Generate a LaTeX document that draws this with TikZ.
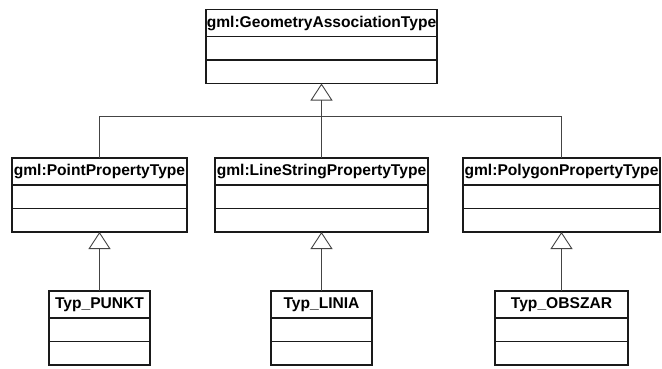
\documentclass[tikz,border=0pt]{standalone}
\usepackage{fontspec}
\setmainfont{Liberation Sans}
\usetikzlibrary{positioning, arrows.meta}
\definecolor{umlline}{HTML}{1A1A1A}
\definecolor{umlconn}{HTML}{444444}

\begin{document}
\begin{tikzpicture}[
    x=1pt, y=-1pt,
    umlhead/.style={rectangle, draw=umlline, line width=1.2pt, fill=white, outer sep=0pt, inner sep=0pt, minimum height=27pt, text height=11.5pt, text depth=3pt, font=\fontsize{15.6}{18}\selectfont\bfseries},
    umlcomp/.style={rectangle, draw=umlline, line width=1.2pt, fill=white, outer sep=0pt, inner sep=0pt, minimum height=23.5pt},
    gen/.style={-{Triangle[open, length=17pt, width=22pt]}, line width=0.9pt, color=umlconn},
    assoc/.style={line width=0.9pt, color=umlconn}
]
\useasboundingbox[fill=white] (0,0) rectangle (662,368);

% base class
\node[umlhead, minimum width=231pt] (geo) at (321.5,23) {gml:GeometryAssociationType};
\node[umlcomp, minimum width=231pt, below=0pt of geo] (geoattr) {};
\node[umlcomp, minimum width=231pt, below=0pt of geoattr] (geoop) {};

% property types
\node[umlhead, minimum width=175pt] (point) at (99.5,171.5) {gml:PointPropertyType};
\node[umlcomp, minimum width=175pt, below=0pt of point] (pointattr) {};
\node[umlcomp, minimum width=175pt, below=0pt of pointattr] (pointop) {};

\node[umlhead, minimum width=213pt] (line) at (321.5,171.5) {gml:LineStringPropertyType};
\node[umlcomp, minimum width=213pt, below=0pt of line] (lineattr) {};
\node[umlcomp, minimum width=213pt, below=0pt of lineattr] (lineop) {};

\node[umlhead, minimum width=197pt] (poly) at (561.5,171.5) {gml:PolygonPropertyType};
\node[umlcomp, minimum width=197pt, below=0pt of poly] (polyattr) {};
\node[umlcomp, minimum width=197pt, below=0pt of polyattr] (polyop) {};

% concrete types
\node[umlhead, minimum width=101pt] (punkt) at (99.5,304.5) {Typ\_PUNKT};
\node[umlcomp, minimum width=101pt, below=0pt of punkt] (punktattr) {};
\node[umlcomp, minimum width=101pt, below=0pt of punktattr] (punktop) {};

\node[umlhead, minimum width=101pt] (linia) at (321.5,304.5) {Typ\_LINIA};
\node[umlcomp, minimum width=101pt, below=0pt of linia] (liniaattr) {};
\node[umlcomp, minimum width=101pt, below=0pt of liniaattr] (liniaop) {};

\node[umlhead, minimum width=133pt] (obszar) at (561.5,304.5) {Typ\_OBSZAR};
\node[umlcomp, minimum width=133pt, below=0pt of obszar] (obszarattr) {};
\node[umlcomp, minimum width=133pt, below=0pt of obszarattr] (obszarop) {};

\coordinate (junc) at (321.5,116);

\draw[assoc] (point.north) |- (junc);
\draw[assoc] (poly.north) |- (junc);
\draw[gen] (line.north) -- (geoop.south);

\draw[gen] (punkt.north) -- (pointop.south);
\draw[gen] (linia.north) -- (lineop.south);
\draw[gen] (obszar.north) -- (polyop.south);
\end{tikzpicture}
\end{document}
